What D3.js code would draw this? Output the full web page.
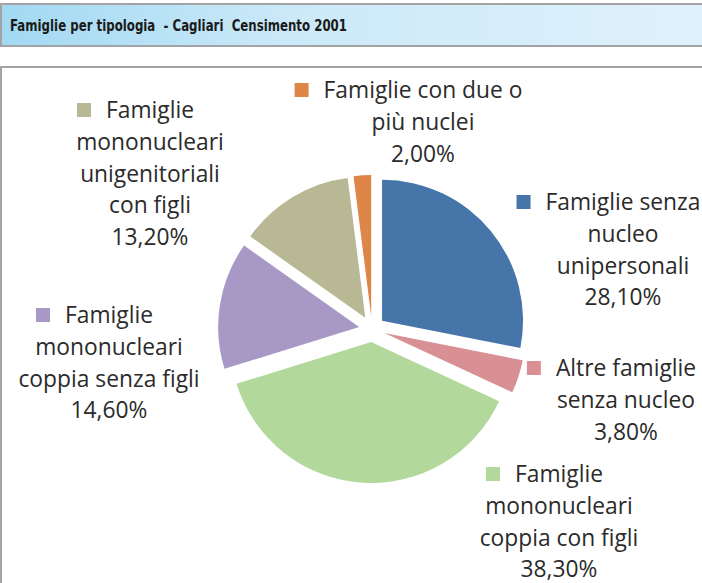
<!DOCTYPE html>
<html>
<head>
  <meta charset="utf-8">
  <title>Famiglie per tipologia - Cagliari Censimento 2001</title>
  <script src="https://d3js.org/d3.v7.min.js"></script>
  <style>
    body { margin: 0; background: #fff; }
    svg { display: block; }
    .lbl { font-family: "Open Sans", Lato, sans-serif; font-size: 22.8px; fill: #2b2b2b; }
    .title { font-family: "DejaVu Sans", sans-serif; font-weight: bold; font-size: 15px; fill: #1a1a1a; white-space: pre; }
  </style>
</head>
<body>
<svg id="chart" width="702" height="583"></svg>
<script>
  // data
  var categories = [
    "Famiglie senza nucleo unipersonali",
    "Altre famiglie senza nucleo",
    "Famiglie mononucleari coppia con figli",
    "Famiglie mononucleari coppia senza figli",
    "Famiglie mononucleari unigenitoriali con figli",
    "Famiglie con due o più nuclei"
  ];
  var values = [28.1, 3.8, 38.3, 14.6, 13.2, 2.0];
  var colors = ["#4675aa", "#d89094", "#b2d89b", "#a898c6", "#b8b894", "#de8648"];
  // how the labels wrap in the original
  var labelLines = [
    ["Famiglie senza", "nucleo", "unipersonali"],
    ["Altre famiglie", "senza nucleo"],
    ["Famiglie", "mononucleari", "coppia con figli"],
    ["Famiglie", "mononucleari", "coppia senza figli"],
    ["Famiglie", "mononucleari", "unigenitoriali", "con figli"],
    ["Famiglie con due o", "più nuclei"]
  ];
  var title = "Famiglie per tipologia  - Cagliari  Censimento 2001";

  // label placement: [centre x, first baseline]
  var labelPos = [[623, 210], [626, 376], [559, 482], [109, 323], [150, 118], [423, 98]];

  var svg = d3.select("#chart");
  var W = 702, H = 583;

  // title bar
  var defs = svg.append("defs");
  var grad = defs.append("linearGradient").attr("id", "tg");
  grad.append("stop").attr("offset", "0%").attr("stop-color", "#a2d9f3");
  grad.append("stop").attr("offset", "40%").attr("stop-color", "#cbe9f8");
  grad.append("stop").attr("offset", "100%").attr("stop-color", "#e0f2fc");

  svg.append("rect")
    .attr("x", 1).attr("y", 4).attr("width", W + 10).attr("height", 42)
    .attr("fill", "url(#tg)").attr("stroke", "#a3a3a6").attr("stroke-width", 2);
  svg.append("text").attr("class", "title")
    .attr("x", 10).attr("y", 31)
    .attr("textLength", 337).attr("lengthAdjust", "spacingAndGlyphs")
    .text(title);

  // chart box
  svg.append("rect")
    .attr("x", 1).attr("y", 67).attr("width", W + 10).attr("height", H)
    .attr("fill", "#fff").attr("stroke", "#a3a3a6").attr("stroke-width", 2);

  // pie
  var cx = 372, cy = 329, r = 141, explode = 13;
  var pie = d3.pie().sort(null).value(function(d) { return d; });
  var arc = d3.arc().innerRadius(0).outerRadius(r);
  var arcs = pie(values);

  var g = svg.append("g").attr("transform", "translate(" + cx + "," + cy + ")");
  g.selectAll("path").data(arcs).enter().append("path")
    .attr("d", arc)
    .attr("fill", function(d, i) { return colors[i]; })
    .attr("transform", function(d) {
      var a = (d.startAngle + d.endAngle) / 2;
      return "translate(" + (explode * Math.sin(a)) + "," + (-explode * Math.cos(a)) + ")";
    });

  // labels
  var fmt = d3.formatLocale({ decimal: ",", thousands: ".", grouping: [3], currency: ["", "€"] }).format(".2f");
  var lh = 31.8;

  arcs.forEach(function(d, i) {
    var lines = labelLines[i].concat([fmt(values[i]) + "%"]);
    var lg = svg.append("g");
    var t = lg.append("text").attr("class", "lbl").attr("text-anchor", "middle");
    lines.forEach(function(s, j) {
      t.append("tspan").attr("x", labelPos[i][0]).attr("y", labelPos[i][1] + j * lh).text(s);
    });
    var first = t.select("tspan").node();
    var w = first.getComputedTextLength();
    lg.append("rect")
      .attr("x", labelPos[i][0] - w / 2 - 15 - 14)
      .attr("y", labelPos[i][1] - 15)
      .attr("width", 14).attr("height", 14)
      .attr("fill", colors[i]);
  });
</script>
</body>
</html>
